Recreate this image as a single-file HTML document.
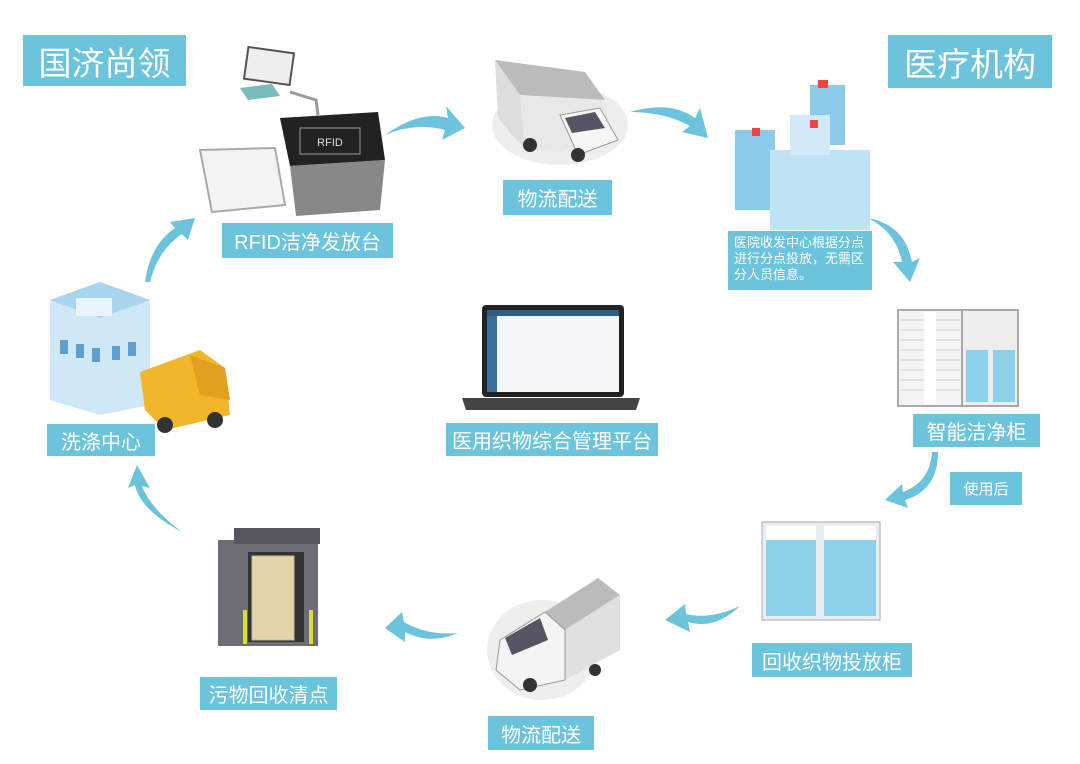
<!DOCTYPE html>
<html><head><meta charset="utf-8"><style>
body{margin:0;width:1080px;height:764px;background:#fff;position:relative;overflow:hidden;font-family:"Liberation Sans","Noto Sans CJK SC",sans-serif}
.l{position:absolute;background:#6cc3dc;color:#fff;display:flex;align-items:center;justify-content:center;white-space:nowrap}
svg{position:absolute;left:0;top:0}
</style></head><body>
<svg width="1080" height="764" viewBox="0 0 1080 764">
<g fill="#6cc3dc">
<path d="M385 135 Q420 110 448 118 L446 106 L465 128 L442 140 L445 130 Q415 122 385 135Z"/>
<path d="M630 112 Q670 100 695 118 L700 108 L708 138 L682 132 L690 126 Q665 112 630 112Z"/>
<path d="M868 218 Q905 225 912 262 L920 258 L910 282 L893 262 L902 262 Q896 232 868 218Z"/>
<path d="M938 452 Q938 490 905 500 L908 508 L885 500 L902 484 L903 492 Q930 482 932 452Z"/>
<path d="M740 606 Q715 630 688 622 L690 632 L665 620 L685 604 L686 614 Q710 620 740 606Z"/>
<path d="M458 633 Q430 645 405 632 L405 642 L385 628 L402 612 L404 622 Q428 636 458 633Z"/>
<path d="M182 532 Q140 510 135 485 L128 488 L137 465 L150 488 L142 486 Q150 508 182 532Z"/>
<path d="M145 282 Q150 245 175 228 L170 222 L195 218 L188 240 L182 234 Q158 250 150 282Z"/>
</g>
<g>
<rect x="246" y="50" width="46" height="32" fill="#eee" stroke="#555" stroke-width="2" transform="rotate(8 269 66)"/>
<polygon points="240,88 272,84 280,96 248,100" fill="#7bb"/>
<path d="M290 92 L316 100 L318 115" stroke="#999" stroke-width="3" fill="none"/>
<polygon points="280,118 378,112 385,160 290,166" fill="#222"/>
<rect x="300" y="128" width="60" height="26" fill="none" stroke="#999"/>
<text x="330" y="146" font-size="11" fill="#ddd" text-anchor="middle">RFID</text>
<polygon points="290,166 385,160 380,210 296,216" fill="#888"/>
<polygon points="200,150 275,148 285,205 212,212" fill="#f2f4f4" stroke="#aaa" stroke-width="2"/>
</g>
<ellipse cx="560" cy="125" rx="68" ry="40" fill="#eee"/>
<polygon points="495,60 585,72 605,100 520,95" fill="#bbb"/>
<polygon points="495,60 520,95 525,150 498,118" fill="#ddd"/>
<polygon points="520,95 605,100 612,140 560,152 525,150" fill="#e8e8e8"/>
<polygon points="560,115 600,108 618,140 578,155" fill="#f6f6f6" stroke="#999"/>
<polygon points="565,118 595,112 605,128 572,133" fill="#556"/>
<circle cx="578" cy="155" r="7" fill="#333"/><circle cx="530" cy="145" r="7" fill="#333"/>
<rect x="735" y="130" width="40" height="80" fill="#8ccbe8"/>
<rect x="770" y="150" width="100" height="80" fill="#bfe3f3"/>
<rect x="810" y="85" width="35" height="60" fill="#8ccbe8"/>
<rect x="790" y="115" width="40" height="40" fill="#cfeaf6"/>
<g fill="#e44"><rect x="818" y="80" width="10" height="8"/><rect x="752" y="128" width="8" height="8"/><rect x="810" y="120" width="8" height="8"/></g>
<rect x="482" y="305" width="142" height="92" rx="4" fill="#222"/>
<rect x="487" y="310" width="132" height="82" fill="#f4f6f8"/>
<rect x="487" y="310" width="132" height="6" fill="#2c5d8a"/>
<rect x="487" y="316" width="10" height="76" fill="#3a6f9a"/>
<polygon points="462,398 640,398 636,410 466,410" fill="#444"/>
<rect x="898" y="310" width="64" height="96" fill="#f4f4f4" stroke="#aaa" stroke-width="2"/>
<g stroke="#ccc"><line x1="900" y1="320" x2="960" y2="320"/><line x1="900" y1="330" x2="960" y2="330"/><line x1="900" y1="340" x2="960" y2="340"/><line x1="900" y1="350" x2="960" y2="350"/><line x1="900" y1="360" x2="960" y2="360"/><line x1="900" y1="370" x2="960" y2="370"/><line x1="900" y1="380" x2="960" y2="380"/><line x1="900" y1="390" x2="960" y2="390"/></g>
<rect x="924" y="312" width="12" height="92" fill="#fff"/>
<rect x="962" y="310" width="56" height="96" fill="#eee" stroke="#aaa" stroke-width="2"/>
<rect x="966" y="350" width="22" height="52" fill="#8dd0ea"/><rect x="993" y="350" width="22" height="52" fill="#8dd0ea"/>
<rect x="762" y="522" width="118" height="98" fill="#e8eef0" stroke="#aaa"/>
<rect x="766" y="540" width="50" height="76" fill="#8dd0ea"/><rect x="824" y="540" width="52" height="76" fill="#8dd0ea"/>
<rect x="766" y="526" width="50" height="14" fill="#fff"/><rect x="824" y="526" width="52" height="14" fill="#fff"/>
<ellipse cx="542" cy="650" rx="55" ry="50" fill="#eee"/>
<polygon points="545,612 598,578 620,595 565,630" fill="#bbb"/>
<polygon points="565,630 620,595 620,650 565,680" fill="#e0e0e0"/>
<polygon points="500,640 545,612 565,630 565,680 520,690 496,670" fill="#f4f4f4" stroke="#999"/>
<polygon points="505,638 540,618 548,640 512,655" fill="#556"/>
<circle cx="530" cy="685" r="7" fill="#333"/><circle cx="595" cy="670" r="6" fill="#333"/>
<rect x="218" y="540" width="100" height="106" fill="#6b6e74"/>
<rect x="234" y="528" width="86" height="16" fill="#55585e"/>
<rect x="248" y="552" width="56" height="90" fill="#333"/>
<rect x="252" y="556" width="42" height="84" fill="#e4d4aa" stroke="#c8b888"/>
<rect x="243" y="610" width="4" height="34" fill="#dd3"/><rect x="309" y="610" width="4" height="34" fill="#dd3"/>
<polygon points="50,300 100,282 150,300 150,405 100,415 50,400" fill="#cfe8f6"/>
<polygon points="50,300 100,282 150,300 100,318" fill="#a8d4ee"/>
<rect x="76" y="298" width="36" height="18" fill="#e8f4fb"/>
<g fill="#5d9fd0"><rect x="60" y="340" width="8" height="14"/><rect x="76" y="344" width="8" height="14"/><rect x="92" y="348" width="8" height="14"/><rect x="112" y="346" width="8" height="14"/><rect x="128" y="342" width="8" height="14"/></g>
<polygon points="140,372 200,350 225,368 230,415 165,430 145,410" fill="#f1b62a"/>
<polygon points="190,355 225,368 230,400 200,395" fill="#e0a020"/>
<circle cx="165" cy="425" r="8" fill="#333"/><circle cx="215" cy="420" r="8" fill="#333"/>
</svg>
<div class="l" style="left:23px;top:35px;width:163px;height:51px;font-size:33px">国济尚领</div>
<div class="l" style="left:888px;top:35px;width:164px;height:53px;font-size:33px">医疗机构</div>
<div class="l" style="left:222px;top:223px;width:171px;height:35px;font-size:20px">RFID洁净发放台</div>
<div class="l" style="left:503px;top:180px;width:109px;height:35px;font-size:20px">物流配送</div>
<div class="l" style="left:728px;top:231px;width:144px;height:59px;font-size:13px;line-height:16px;white-space:nowrap;display:block;padding:4px 0 0 6px;box-sizing:border-box">医院收发中心根据分点<br>进行分点投放，无需区<br>分人员信息。</div>
<div class="l" style="left:913px;top:414px;width:127px;height:33px;font-size:20px">智能洁净柜</div>
<div class="l" style="left:950px;top:472px;width:72px;height:33px;font-size:15px">使用后</div>
<div class="l" style="left:752px;top:643px;width:160px;height:34px;font-size:20px">回收织物投放柜</div>
<div class="l" style="left:488px;top:716px;width:106px;height:34px;font-size:20px">物流配送</div>
<div class="l" style="left:200px;top:677px;width:137px;height:33px;font-size:20px">污物回收清点</div>
<div class="l" style="left:47px;top:424px;width:108px;height:32px;font-size:20px">洗涤中心</div>
<div class="l" style="left:446px;top:423px;width:212px;height:33px;font-size:20px">医用织物综合管理平台</div>
</body></html>
